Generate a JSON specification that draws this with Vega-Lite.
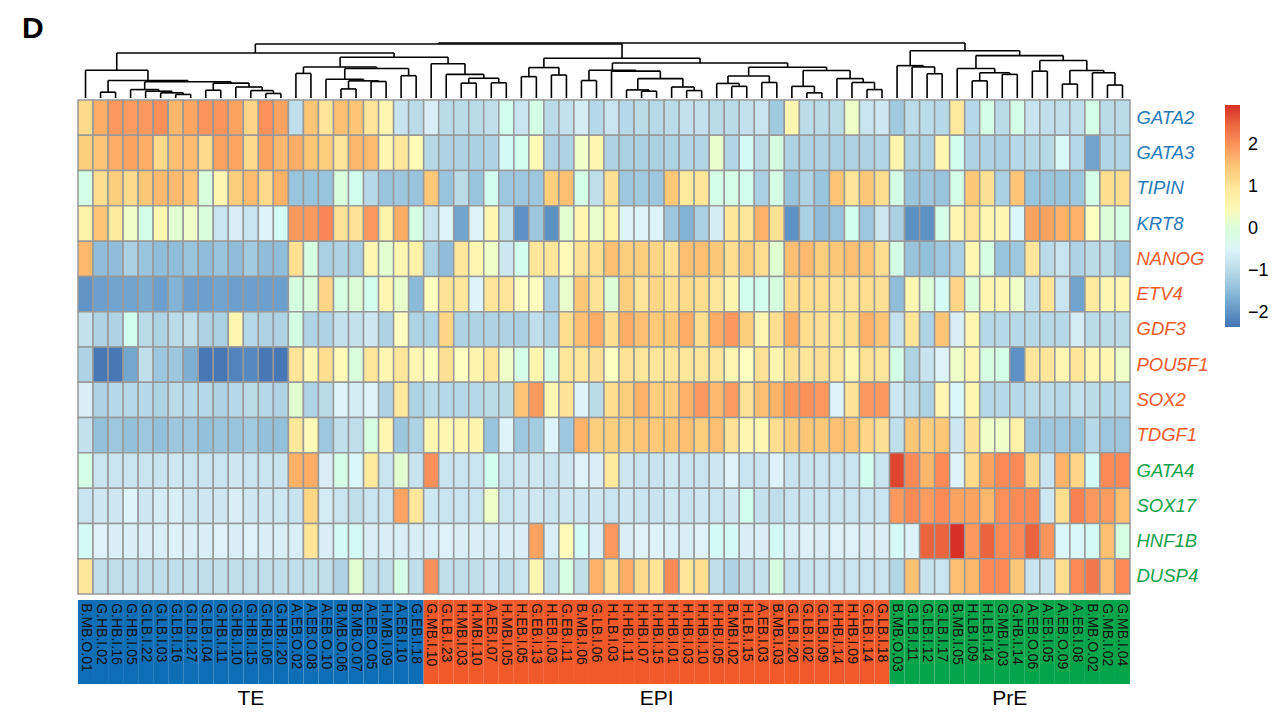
{
"$schema": "https://vega.github.io/schema/vega-lite/v6.json",
"padding": {"left": 22, "top": 14, "right": 0, "bottom": 0},
"background": "white",
"config": {"view": {"stroke": null}, "font": "Liberation Sans", "concat": {"spacing": 0}},
"title": {"text": "D", "anchor": "start", "frame": "group", "fontSize": 30, "fontWeight": "bold", "dx": -56, "offset": -2, "color": "black"},
"resolve": {"scale": {"fill": "independent", "color": "independent"}, "legend": {"fill": "independent"}},
"datasets": {
"tree": [
{"xl":2,"xr":3,"hl":0,"hr":0,"h":18},{"xl":7,"xr":8,"hl":0,"hr":0,"h":11},{"xl":6,"xr":7.5,"hl":0,"hr":11,"h":16},{"xl":5,"xr":6.75,"hl":0,"hr":16,"h":21},{"xl":4,"xr":5.875,"hl":0,"hr":21,"h":26},{"xl":9,"xr":10,"hl":0,"hr":0,"h":24},{"xl":13,"xr":14,"hl":0,"hr":0,"h":14},{"xl":12,"xr":13.5,"hl":0,"hr":14,"h":23},{"xl":11,"xr":12.75,"hl":0,"hr":23,"h":34},{"xl":9.5,"xr":11.875,"hl":24,"hr":34,"h":46},{"xl":4.9375,"xr":10.6875,"hl":26,"hr":46,"h":50},{"xl":2.5,"xr":7.8125,"hl":18,"hr":50,"h":54},{"xl":1,"xr":5.156,"hl":0,"hr":54,"h":86},
{"xl":15,"xr":16,"hl":0,"hr":0,"h":76},{"xl":18,"xr":19,"hl":0,"hr":0,"h":28},{"xl":20,"xr":21,"hl":0,"hr":0,"h":51},{"xl":18.5,"xr":20.5,"hl":28,"hr":51,"h":53},{"xl":17,"xr":19.5,"hl":0,"hr":53,"h":58},{"xl":22,"xr":23,"hl":0,"hr":0,"h":69},{"xl":18.25,"xr":22.5,"hl":58,"hr":69,"h":91},{"xl":15.5,"xr":20.375,"hl":76,"hr":91,"h":96},
{"xl":26,"xr":27,"hl":0,"hr":0,"h":46},{"xl":28,"xr":29,"hl":0,"hr":0,"h":47},{"xl":26.5,"xr":28.5,"hl":46,"hr":47,"h":61},{"xl":25,"xr":27.5,"hl":0,"hr":61,"h":73},{"xl":24,"xr":26.25,"hl":0,"hr":73,"h":106},{"xl":17.94,"xr":25.125,"hl":96,"hr":106,"h":126},{"xl":3.078,"xr":21.53,"hl":86,"hr":126,"h":139},
{"xl":30,"xr":31,"hl":0,"hr":0,"h":66},{"xl":32,"xr":33,"hl":0,"hr":0,"h":71},{"xl":30.5,"xr":32.5,"hl":66,"hr":71,"h":94},
{"xl":34,"xr":35,"hl":0,"hr":0,"h":54},{"xl":38,"xr":39,"hl":0,"hr":0,"h":21},{"xl":37,"xr":38.5,"hl":0,"hr":21,"h":25},{"xl":41,"xr":42,"hl":0,"hr":0,"h":23},{"xl":40,"xr":41.5,"hl":0,"hr":23,"h":34},{"xl":37.75,"xr":40.75,"hl":25,"hr":34,"h":60},{"xl":36,"xr":39.25,"hl":0,"hr":60,"h":83},{"xl":34.5,"xr":37.625,"hl":54,"hr":83,"h":86},
{"xl":44,"xr":45,"hl":0,"hr":0,"h":36},{"xl":43,"xr":44.5,"hl":0,"hr":36,"h":45},{"xl":46,"xr":47,"hl":0,"hr":0,"h":48},{"xl":43.75,"xr":46.5,"hl":45,"hr":48,"h":68},{"xl":49,"xr":50,"hl":0,"hr":0,"h":16},{"xl":48,"xr":49.5,"hl":0,"hr":16,"h":36},{"xl":53,"xr":54,"hl":0,"hr":0,"h":26},{"xl":52,"xr":53.5,"hl":0,"hr":26,"h":48},{"xl":51,"xr":52.75,"hl":0,"hr":48,"h":60},{"xl":48.75,"xr":51.875,"hl":36,"hr":60,"h":85},{"xl":45.125,"xr":50.31,"hl":68,"hr":85,"h":95},{"xl":36.06,"xr":47.72,"hl":86,"hr":95,"h":108},{"xl":31.5,"xr":41.89,"hl":94,"hr":108,"h":123},{"xl":12.3,"xr":36.7,"hl":139,"hr":123,"h":167},
{"xl":57,"xr":58,"hl":0,"hr":0,"h":75},{"xl":56,"xr":57.5,"hl":0,"hr":75,"h":96},{"xl":55,"xr":56.75,"hl":0,"hr":96,"h":100},{"xl":60,"xr":61,"hl":0,"hr":0,"h":53},{"xl":62,"xr":63,"hl":0,"hr":0,"h":73},{"xl":60.5,"xr":62.5,"hl":53,"hr":73,"h":78},{"xl":59,"xr":61.5,"hl":0,"hr":78,"h":91},{"xl":64,"xr":65,"hl":0,"hr":0,"h":83},{"xl":66,"xr":67,"hl":0,"hr":0,"h":43},{"xl":69,"xr":70,"hl":0,"hr":0,"h":40},{"xl":68,"xr":69.5,"hl":0,"hr":40,"h":78},{"xl":66.5,"xr":68.75,"hl":43,"hr":78,"h":85},{"xl":64.5,"xr":67.625,"hl":83,"hr":85,"h":116},{"xl":60.25,"xr":66.06,"hl":91,"hr":116,"h":131},{"xl":55.875,"xr":63.16,"hl":100,"hr":131,"h":146},{"xl":24.5,"xr":59.52,"hl":167,"hr":146,"h":170}
],
"samples": [
{"i":1,"s":"B.MB.O.01","g":"TE","GATA2":1.25,"GATA3":1.4,"TIPIN":-0.1,"KRT8":0.7,"NANOG":1.62,"ETV4":-1.96,"GDF3":-0.87,"POU5F1":-1.12,"SOX2":-0.64,"TDGF1":-0.87,"GATA4":-0.1,"SOX17":-0.82,"HNF1B":-0.35,"DUSP4":1.0},
{"i":2,"s":"G.HB.I.02","g":"TE","GATA2":1.75,"GATA3":1.5,"TIPIN":1.2,"KRT8":1.5,"NANOG":-1.47,"ETV4":-1.83,"GDF3":-1.12,"POU5F1":-2.3,"SOX2":-1.12,"TDGF1":-1.42,"GATA4":-0.82,"SOX17":-0.76,"HNF1B":-0.58,"DUSP4":-0.92},
{"i":3,"s":"G.HB.I.16","g":"TE","GATA2":1.95,"GATA3":1.75,"TIPIN":1.4,"KRT8":0.95,"NANOG":-1.47,"ETV4":-1.78,"GDF3":-1.12,"POU5F1":-2.3,"SOX2":-1.02,"TDGF1":-1.32,"GATA4":-0.82,"SOX17":-0.76,"HNF1B":-0.64,"DUSP4":-0.92},
{"i":4,"s":"G.HB.I.05","g":"TE","GATA2":1.92,"GATA3":1.85,"TIPIN":1.25,"KRT8":0.2,"NANOG":-1.17,"ETV4":-1.78,"GDF3":-0.22,"POU5F1":-1.74,"SOX2":-1.02,"TDGF1":-1.42,"GATA4":-0.82,"SOX17":-0.52,"HNF1B":-0.64,"DUSP4":-0.92},
{"i":5,"s":"G.LB.I.22","g":"TE","GATA2":1.95,"GATA3":1.75,"TIPIN":1.45,"KRT8":-0.1,"NANOG":-1.37,"ETV4":-1.69,"GDF3":-0.97,"POU5F1":-0.92,"SOX2":-1.02,"TDGF1":-1.32,"GATA4":-0.82,"SOX17":-0.76,"HNF1B":-0.64,"DUSP4":-0.92},
{"i":6,"s":"G.LB.I.03","g":"TE","GATA2":2.05,"GATA3":1.25,"TIPIN":1.62,"KRT8":0.55,"NANOG":-1.47,"ETV4":-1.83,"GDF3":-1.12,"POU5F1":-1.32,"SOX2":-1.12,"TDGF1":-1.42,"GATA4":-0.82,"SOX17":-0.7,"HNF1B":-0.64,"DUSP4":-0.92},
{"i":7,"s":"G.LB.I.16","g":"TE","GATA2":1.65,"GATA3":1.55,"TIPIN":1.6,"KRT8":0.1,"NANOG":-1.47,"ETV4":-1.6,"GDF3":-0.97,"POU5F1":-1.32,"SOX2":-0.97,"TDGF1":-1.32,"GATA4":-0.76,"SOX17":-0.64,"HNF1B":-0.58,"DUSP4":-0.92},
{"i":8,"s":"G.LB.I.27","g":"TE","GATA2":1.82,"GATA3":1.6,"TIPIN":1.5,"KRT8":0.2,"NANOG":-1.37,"ETV4":-1.83,"GDF3":-0.92,"POU5F1":-1.64,"SOX2":-1.02,"TDGF1":-1.32,"GATA4":-0.82,"SOX17":-0.76,"HNF1B":-0.64,"DUSP4":-0.92},
{"i":9,"s":"G.LB.I.04","g":"TE","GATA2":2.0,"GATA3":1.25,"TIPIN":0.0,"KRT8":0.0,"NANOG":-1.47,"ETV4":-1.83,"GDF3":-1.12,"POU5F1":-2.3,"SOX2":-1.02,"TDGF1":-1.42,"GATA4":-0.82,"SOX17":-0.76,"HNF1B":-0.64,"DUSP4":-0.92},
{"i":10,"s":"G.HB.I.11","g":"TE","GATA2":2.0,"GATA3":1.85,"TIPIN":0.55,"KRT8":-0.82,"NANOG":-1.37,"ETV4":-1.78,"GDF3":-1.17,"POU5F1":-2.3,"SOX2":-1.12,"TDGF1":-1.37,"GATA4":-0.82,"SOX17":-0.76,"HNF1B":-0.58,"DUSP4":-0.92},
{"i":11,"s":"G.HB.I.10","g":"TE","GATA2":1.85,"GATA3":1.82,"TIPIN":1.4,"KRT8":-0.64,"NANOG":-1.47,"ETV4":-1.83,"GDF3":0.55,"POU5F1":-2.15,"SOX2":-1.02,"TDGF1":-1.37,"GATA4":-0.76,"SOX17":-0.64,"HNF1B":-0.64,"DUSP4":-0.92},
{"i":12,"s":"G.HB.I.15","g":"TE","GATA2":1.3,"GATA3":1.25,"TIPIN":1.6,"KRT8":-0.82,"NANOG":-1.27,"ETV4":-1.83,"GDF3":-1.02,"POU5F1":-2.1,"SOX2":-0.97,"TDGF1":-1.27,"GATA4":-0.82,"SOX17":-0.76,"HNF1B":-0.58,"DUSP4":-0.92},
{"i":13,"s":"G.HB.I.06","g":"TE","GATA2":2.05,"GATA3":1.85,"TIPIN":1.25,"KRT8":-0.52,"NANOG":-1.47,"ETV4":-1.83,"GDF3":-1.12,"POU5F1":-2.3,"SOX2":-1.02,"TDGF1":-1.42,"GATA4":-0.82,"SOX17":-0.76,"HNF1B":-0.64,"DUSP4":-0.92},
{"i":14,"s":"G.HB.I.20","g":"TE","GATA2":1.85,"GATA3":1.62,"TIPIN":1.7,"KRT8":-0.28,"NANOG":-1.47,"ETV4":-1.83,"GDF3":-1.12,"POU5F1":-2.3,"SOX2":-1.12,"TDGF1":-1.42,"GATA4":-0.82,"SOX17":-0.76,"HNF1B":-0.64,"DUSP4":-0.92},
{"i":15,"s":"A.EB.O.02","g":"TE","GATA2":-0.92,"GATA3":1.75,"TIPIN":-1.37,"KRT8":1.95,"NANOG":1.15,"ETV4":-0.05,"GDF3":-0.1,"POU5F1":1.05,"SOX2":0.1,"TDGF1":0.95,"GATA4":1.7,"SOX17":-0.82,"HNF1B":-0.64,"DUSP4":-0.92},
{"i":16,"s":"A.EB.O.08","g":"TE","GATA2":1.5,"GATA3":1.5,"TIPIN":-1.37,"KRT8":1.95,"NANOG":-0.05,"ETV4":0.0,"GDF3":-1.12,"POU5F1":0.55,"SOX2":-1.12,"TDGF1":0.45,"GATA4":1.75,"SOX17":1.3,"HNF1B":1.05,"DUSP4":-0.92},
{"i":17,"s":"A.EB.O.10","g":"TE","GATA2":1.05,"GATA3":1.4,"TIPIN":-1.37,"KRT8":2.15,"NANOG":-1.17,"ETV4":1.3,"GDF3":-1.12,"POU5F1":1.2,"SOX2":-0.97,"TDGF1":-1.32,"GATA4":-0.64,"SOX17":-0.7,"HNF1B":-0.64,"DUSP4":-0.92},
{"i":18,"s":"B.MB.O.06","g":"TE","GATA2":1.55,"GATA3":1.05,"TIPIN":0.0,"KRT8":1.1,"NANOG":-1.12,"ETV4":-0.05,"GDF3":-0.87,"POU5F1":0.45,"SOX2":-0.52,"TDGF1":-0.92,"GATA4":-0.1,"SOX17":-0.82,"HNF1B":-0.35,"DUSP4":-1.12},
{"i":19,"s":"B.MB.O.07","g":"TE","GATA2":1.5,"GATA3":1.65,"TIPIN":-0.22,"KRT8":1.1,"NANOG":-1.17,"ETV4":0.05,"GDF3":-0.87,"POU5F1":0.0,"SOX2":-0.7,"TDGF1":-0.92,"GATA4":-0.46,"SOX17":-0.92,"HNF1B":-0.35,"DUSP4":0.1},
{"i":20,"s":"A.EB.O.05","g":"TE","GATA2":1.05,"GATA3":1.6,"TIPIN":-1.02,"KRT8":1.95,"NANOG":0.55,"ETV4":-0.22,"GDF3":-0.76,"POU5F1":1.0,"SOX2":-0.52,"TDGF1":-0.05,"GATA4":0.95,"SOX17":-0.82,"HNF1B":-0.64,"DUSP4":-0.92},
{"i":21,"s":"H.MB.I.09","g":"TE","GATA2":0.55,"GATA3":0.55,"TIPIN":-1.37,"KRT8":0.7,"NANOG":0.1,"ETV4":0.55,"GDF3":-1.12,"POU5F1":0.55,"SOX2":-1.12,"TDGF1":0.55,"GATA4":-0.82,"SOX17":-0.82,"HNF1B":-0.64,"DUSP4":-0.92},
{"i":22,"s":"A.EB.I.10","g":"TE","GATA2":-0.82,"GATA3":1.0,"TIPIN":-1.32,"KRT8":1.75,"NANOG":0.55,"ETV4":0.15,"GDF3":0.3,"POU5F1":1.0,"SOX2":0.95,"TDGF1":-1.32,"GATA4":0.1,"SOX17":1.85,"HNF1B":-0.64,"DUSP4":-0.1},
{"i":23,"s":"G.EB.I.18","g":"TE","GATA2":-0.97,"GATA3":0.45,"TIPIN":-1.37,"KRT8":-0.1,"NANOG":0.7,"ETV4":-1.5,"GDF3":-1.12,"POU5F1":0.55,"SOX2":-1.12,"TDGF1":-1.12,"GATA4":-0.82,"SOX17":1.0,"HNF1B":-0.64,"DUSP4":-0.92},
{"i":24,"s":"G.MB.I.10","g":"EPI","GATA2":-0.64,"GATA3":-1.02,"TIPIN":1.45,"KRT8":-0.82,"NANOG":-1.12,"ETV4":0.3,"GDF3":-1.12,"POU5F1":0.3,"SOX2":-0.97,"TDGF1":0.55,"GATA4":2.05,"SOX17":-0.76,"HNF1B":-0.64,"DUSP4":2.05},
{"i":25,"s":"G.LB.I.23","g":"EPI","GATA2":-0.97,"GATA3":-1.12,"TIPIN":-1.37,"KRT8":-0.52,"NANOG":-1.47,"ETV4":1.1,"GDF3":1.3,"POU5F1":1.15,"SOX2":-1.02,"TDGF1":0.55,"GATA4":-0.82,"SOX17":-0.82,"HNF1B":-0.58,"DUSP4":-0.92},
{"i":26,"s":"H.MB.I.03","g":"EPI","GATA2":-0.97,"GATA3":-1.12,"TIPIN":-0.97,"KRT8":-1.78,"NANOG":1.0,"ETV4":1.0,"GDF3":-1.12,"POU5F1":0.3,"SOX2":-1.02,"TDGF1":0.55,"GATA4":-0.82,"SOX17":-0.82,"HNF1B":-0.64,"DUSP4":-0.92},
{"i":27,"s":"H.MB.I.10","g":"EPI","GATA2":-0.97,"GATA3":-1.17,"TIPIN":-1.37,"KRT8":-0.52,"NANOG":0.55,"ETV4":-0.52,"GDF3":-1.12,"POU5F1":0.6,"SOX2":-1.02,"TDGF1":0.6,"GATA4":-0.82,"SOX17":-0.82,"HNF1B":-0.64,"DUSP4":-0.92},
{"i":28,"s":"A.EB.I.07","g":"EPI","GATA2":-0.92,"GATA3":-1.12,"TIPIN":-0.22,"KRT8":0.55,"NANOG":0.2,"ETV4":1.05,"GDF3":-1.12,"POU5F1":1.0,"SOX2":-0.97,"TDGF1":-1.37,"GATA4":-0.22,"SOX17":0.2,"HNF1B":-0.64,"DUSP4":-0.76},
{"i":29,"s":"H.MB.I.05","g":"EPI","GATA2":-0.22,"GATA3":-0.35,"TIPIN":-1.32,"KRT8":-0.87,"NANOG":-0.76,"ETV4":1.05,"GDF3":-1.12,"POU5F1":0.2,"SOX2":-0.97,"TDGF1":-0.52,"GATA4":-0.82,"SOX17":-0.82,"HNF1B":-0.64,"DUSP4":-0.92},
{"i":30,"s":"H.EB.I.05","g":"EPI","GATA2":-0.82,"GATA3":-0.22,"TIPIN":-1.32,"KRT8":-2.0,"NANOG":-0.22,"ETV4":0.3,"GDF3":-1.17,"POU5F1":-0.1,"SOX2":1.5,"TDGF1":-1.32,"GATA4":-0.76,"SOX17":-0.76,"HNF1B":-0.64,"DUSP4":-0.82},
{"i":31,"s":"G.EB.I.13","g":"EPI","GATA2":-0.1,"GATA3":0.45,"TIPIN":-1.32,"KRT8":-1.32,"NANOG":1.0,"ETV4":0.3,"GDF3":-0.92,"POU5F1":0.6,"SOX2":1.95,"TDGF1":-1.22,"GATA4":-0.76,"SOX17":-0.76,"HNF1B":1.85,"DUSP4":0.55},
{"i":32,"s":"H.EB.I.03","g":"EPI","GATA2":-0.97,"GATA3":-1.12,"TIPIN":1.4,"KRT8":-2.0,"NANOG":1.0,"ETV4":-1.17,"GDF3":-1.12,"POU5F1":-0.1,"SOX2":0.55,"TDGF1":-0.52,"GATA4":-0.82,"SOX17":-0.82,"HNF1B":-0.64,"DUSP4":-0.92},
{"i":33,"s":"G.EB.I.11","g":"EPI","GATA2":-0.87,"GATA3":-1.12,"TIPIN":1.55,"KRT8":0.1,"NANOG":0.45,"ETV4":0.15,"GDF3":1.2,"POU5F1":1.0,"SOX2":1.1,"TDGF1":-1.32,"GATA4":-0.76,"SOX17":-0.76,"HNF1B":0.45,"DUSP4":-0.05},
{"i":34,"s":"B.MB.I.06","g":"EPI","GATA2":-0.7,"GATA3":0.2,"TIPIN":-0.1,"KRT8":0.55,"NANOG":1.1,"ETV4":1.45,"GDF3":1.55,"POU5F1":1.0,"SOX2":-0.52,"TDGF1":1.7,"GATA4":-0.58,"SOX17":-0.76,"HNF1B":-0.35,"DUSP4":-0.92},
{"i":35,"s":"G.LB.I.06","g":"EPI","GATA2":-1.02,"GATA3":0.55,"TIPIN":-0.92,"KRT8":0.15,"NANOG":1.2,"ETV4":1.1,"GDF3":1.75,"POU5F1":1.15,"SOX2":-0.97,"TDGF1":1.4,"GATA4":-0.64,"SOX17":-0.76,"HNF1B":-0.64,"DUSP4":1.7},
{"i":36,"s":"H.LB.I.03","g":"EPI","GATA2":-0.82,"GATA3":-1.12,"TIPIN":1.15,"KRT8":0.7,"NANOG":1.55,"ETV4":0.05,"GDF3":1.2,"POU5F1":0.3,"SOX2":1.2,"TDGF1":1.4,"GATA4":0.95,"SOX17":-0.82,"HNF1B":1.95,"DUSP4":1.2},
{"i":37,"s":"H.HB.I.11","g":"EPI","GATA2":-1.02,"GATA3":-1.17,"TIPIN":-1.32,"KRT8":-0.52,"NANOG":1.4,"ETV4":1.4,"GDF3":1.75,"POU5F1":1.1,"SOX2":1.4,"TDGF1":1.4,"GATA4":-0.76,"SOX17":-0.76,"HNF1B":-0.64,"DUSP4":1.75},
{"i":38,"s":"H.HB.I.07","g":"EPI","GATA2":-0.97,"GATA3":-1.17,"TIPIN":-1.27,"KRT8":-0.52,"NANOG":1.4,"ETV4":1.05,"GDF3":1.55,"POU5F1":1.0,"SOX2":1.7,"TDGF1":1.5,"GATA4":-0.82,"SOX17":-0.82,"HNF1B":-0.58,"DUSP4":1.25},
{"i":39,"s":"H.HB.I.15","g":"EPI","GATA2":-1.02,"GATA3":-1.17,"TIPIN":-1.32,"KRT8":-0.52,"NANOG":1.3,"ETV4":1.3,"GDF3":1.45,"POU5F1":1.0,"SOX2":1.4,"TDGF1":1.45,"GATA4":-0.82,"SOX17":-0.82,"HNF1B":-0.58,"DUSP4":1.05},
{"i":40,"s":"H.HB.I.01","g":"EPI","GATA2":-0.97,"GATA3":-1.12,"TIPIN":1.45,"KRT8":-1.32,"NANOG":1.15,"ETV4":1.15,"GDF3":1.45,"POU5F1":1.0,"SOX2":1.4,"TDGF1":1.5,"GATA4":-0.76,"SOX17":-0.76,"HNF1B":-0.64,"DUSP4":2.1},
{"i":41,"s":"H.HB.I.03","g":"EPI","GATA2":-0.87,"GATA3":-1.07,"TIPIN":0.95,"KRT8":-1.6,"NANOG":1.55,"ETV4":1.25,"GDF3":1.75,"POU5F1":1.0,"SOX2":1.7,"TDGF1":1.55,"GATA4":-0.82,"SOX17":-0.82,"HNF1B":-0.64,"DUSP4":1.05},
{"i":42,"s":"H.HB.I.10","g":"EPI","GATA2":-0.87,"GATA3":-1.07,"TIPIN":1.05,"KRT8":-1.17,"NANOG":1.55,"ETV4":1.2,"GDF3":1.2,"POU5F1":1.0,"SOX2":1.95,"TDGF1":1.4,"GATA4":-0.82,"SOX17":-0.76,"HNF1B":-0.58,"DUSP4":1.2},
{"i":43,"s":"H.HB.I.05","g":"EPI","GATA2":-0.97,"GATA3":0.15,"TIPIN":-0.1,"KRT8":-0.7,"NANOG":1.45,"ETV4":1.0,"GDF3":1.75,"POU5F1":1.0,"SOX2":1.62,"TDGF1":1.55,"GATA4":-0.76,"SOX17":-0.82,"HNF1B":-0.35,"DUSP4":-0.92},
{"i":44,"s":"B.MB.I.02","g":"EPI","GATA2":-0.97,"GATA3":-1.07,"TIPIN":-0.1,"KRT8":1.0,"NANOG":1.2,"ETV4":0.6,"GDF3":1.95,"POU5F1":0.55,"SOX2":1.92,"TDGF1":1.1,"GATA4":-0.58,"SOX17":-0.76,"HNF1B":-0.35,"DUSP4":-1.12},
{"i":45,"s":"H.LB.I.15","g":"EPI","GATA2":-0.87,"GATA3":-0.35,"TIPIN":-0.22,"KRT8":1.0,"NANOG":1.4,"ETV4":-0.22,"GDF3":1.4,"POU5F1":0.3,"SOX2":1.1,"TDGF1":0.55,"GATA4":-0.82,"SOX17":-0.22,"HNF1B":-0.64,"DUSP4":-0.92},
{"i":46,"s":"A.EB.I.03","g":"EPI","GATA2":-0.82,"GATA3":-0.97,"TIPIN":-1.17,"KRT8":1.7,"NANOG":1.2,"ETV4":-0.22,"GDF3":0.55,"POU5F1":1.1,"SOX2":1.55,"TDGF1":0.55,"GATA4":-0.82,"SOX17":-0.87,"HNF1B":-0.64,"DUSP4":-0.87},
{"i":47,"s":"B.MB.I.03","g":"EPI","GATA2":-1.27,"GATA3":-0.05,"TIPIN":-0.1,"KRT8":1.1,"NANOG":0.1,"ETV4":-0.05,"GDF3":1.2,"POU5F1":0.6,"SOX2":1.7,"TDGF1":1.2,"GATA4":-0.58,"SOX17":-0.92,"HNF1B":-0.35,"DUSP4":-0.05},
{"i":48,"s":"G.LB.I.20","g":"EPI","GATA2":0.55,"GATA3":-1.12,"TIPIN":-1.37,"KRT8":-2.0,"NANOG":1.55,"ETV4":1.2,"GDF3":1.75,"POU5F1":1.15,"SOX2":1.95,"TDGF1":1.4,"GATA4":-0.82,"SOX17":-0.82,"HNF1B":-0.64,"DUSP4":-0.87},
{"i":49,"s":"G.LB.I.02","g":"EPI","GATA2":-0.97,"GATA3":-1.12,"TIPIN":-1.12,"KRT8":-1.17,"NANOG":1.62,"ETV4":1.2,"GDF3":1.2,"POU5F1":1.0,"SOX2":2.05,"TDGF1":1.5,"GATA4":-0.82,"SOX17":-0.82,"HNF1B":-0.58,"DUSP4":-0.82},
{"i":50,"s":"G.LB.I.09","g":"EPI","GATA2":-0.97,"GATA3":-1.12,"TIPIN":-1.37,"KRT8":-1.47,"NANOG":1.4,"ETV4":1.2,"GDF3":1.15,"POU5F1":1.15,"SOX2":1.95,"TDGF1":1.45,"GATA4":-0.82,"SOX17":-0.82,"HNF1B":-0.64,"DUSP4":-0.82},
{"i":51,"s":"H.HB.I.14","g":"EPI","GATA2":-0.97,"GATA3":-1.17,"TIPIN":1.5,"KRT8":-1.37,"NANOG":1.45,"ETV4":1.1,"GDF3":1.05,"POU5F1":1.0,"SOX2":-0.52,"TDGF1":1.55,"GATA4":-0.82,"SOX17":-0.82,"HNF1B":-0.58,"DUSP4":-0.82},
{"i":52,"s":"H.HB.I.09","g":"EPI","GATA2":0.2,"GATA3":-1.12,"TIPIN":1.05,"KRT8":-0.22,"NANOG":1.55,"ETV4":1.05,"GDF3":1.2,"POU5F1":0.55,"SOX2":1.1,"TDGF1":1.5,"GATA4":-0.82,"SOX17":-0.82,"HNF1B":-0.58,"DUSP4":-0.82},
{"i":53,"s":"G.LB.I.14","g":"EPI","GATA2":-0.82,"GATA3":-1.12,"TIPIN":1.45,"KRT8":-1.32,"NANOG":1.5,"ETV4":1.2,"GDF3":1.7,"POU5F1":1.1,"SOX2":1.95,"TDGF1":1.3,"GATA4":-0.22,"SOX17":-0.82,"HNF1B":-0.64,"DUSP4":-0.82},
{"i":54,"s":"G.LB.I.18","g":"EPI","GATA2":-0.76,"GATA3":-1.07,"TIPIN":1.2,"KRT8":-0.76,"NANOG":1.2,"ETV4":1.15,"GDF3":1.5,"POU5F1":1.0,"SOX2":1.95,"TDGF1":1.15,"GATA4":-0.82,"SOX17":-0.82,"HNF1B":-0.64,"DUSP4":-0.82},
{"i":55,"s":"B.MB.O.03","g":"PrE","GATA2":-1.27,"GATA3":0.6,"TIPIN":-0.1,"KRT8":-1.17,"NANOG":-0.1,"ETV4":-1.47,"GDF3":-0.87,"POU5F1":-0.1,"SOX2":-0.76,"TDGF1":-0.92,"GATA4":2.8,"SOX17":1.95,"HNF1B":-0.35,"DUSP4":-1.07},
{"i":56,"s":"G.LB.I.11","g":"PrE","GATA2":-0.97,"GATA3":-1.12,"TIPIN":-1.37,"KRT8":-2.0,"NANOG":-1.37,"ETV4":0.55,"GDF3":1.05,"POU5F1":-1.12,"SOX2":-0.97,"TDGF1":1.5,"GATA4":2.1,"SOX17":2.1,"HNF1B":-0.58,"DUSP4":1.55},
{"i":57,"s":"G.LB.I.12","g":"PrE","GATA2":-0.97,"GATA3":-1.12,"TIPIN":-1.32,"KRT8":-2.0,"NANOG":-1.42,"ETV4":0.05,"GDF3":-1.12,"POU5F1":-0.82,"SOX2":-1.12,"TDGF1":1.4,"GATA4":1.65,"SOX17":1.92,"HNF1B":2.5,"DUSP4":-0.82},
{"i":58,"s":"G.LB.I.17","g":"PrE","GATA2":-1.02,"GATA3":0.55,"TIPIN":-1.37,"KRT8":-0.1,"NANOG":-1.32,"ETV4":-0.35,"GDF3":1.5,"POU5F1":-0.52,"SOX2":0.55,"TDGF1":1.45,"GATA4":2.1,"SOX17":2.1,"HNF1B":2.5,"DUSP4":-0.82},
{"i":59,"s":"B.MB.I.05","g":"PrE","GATA2":0.95,"GATA3":-0.22,"TIPIN":-0.1,"KRT8":0.55,"NANOG":-1.17,"ETV4":1.3,"GDF3":-0.64,"POU5F1":0.2,"SOX2":-0.46,"TDGF1":-0.76,"GATA4":-0.52,"SOX17":1.85,"HNF1B":2.95,"DUSP4":1.55},
{"i":60,"s":"H.LB.I.09","g":"PrE","GATA2":-1.02,"GATA3":-1.12,"TIPIN":1.45,"KRT8":1.05,"NANOG":0.55,"ETV4":0.0,"GDF3":0.55,"POU5F1":0.55,"SOX2":0.55,"TDGF1":1.15,"GATA4":1.25,"SOX17":1.85,"HNF1B":1.95,"DUSP4":1.65},
{"i":61,"s":"H.LB.I.14","g":"PrE","GATA2":-0.1,"GATA3":-1.12,"TIPIN":1.15,"KRT8":0.55,"NANOG":-0.05,"ETV4":0.55,"GDF3":-1.02,"POU5F1":-0.05,"SOX2":-1.02,"TDGF1":0.2,"GATA4":1.85,"SOX17":1.65,"HNF1B":2.5,"DUSP4":2.1},
{"i":62,"s":"G.MB.I.03","g":"PrE","GATA2":-0.97,"GATA3":-1.17,"TIPIN":-1.17,"KRT8":0.55,"NANOG":-1.37,"ETV4":0.55,"GDF3":-1.02,"POU5F1":-0.1,"SOX2":-1.02,"TDGF1":0.2,"GATA4":2.1,"SOX17":2.05,"HNF1B":2.1,"DUSP4":2.1},
{"i":63,"s":"G.HB.I.14","g":"PrE","GATA2":-0.1,"GATA3":-1.02,"TIPIN":1.5,"KRT8":-0.46,"NANOG":-1.32,"ETV4":0.2,"GDF3":-1.02,"POU5F1":-2.0,"SOX2":-1.02,"TDGF1":0.7,"GATA4":2.1,"SOX17":2.1,"HNF1B":2.1,"DUSP4":1.45},
{"i":64,"s":"A.EB.O.06","g":"PrE","GATA2":-0.82,"GATA3":-1.02,"TIPIN":-1.37,"KRT8":1.85,"NANOG":1.0,"ETV4":-0.92,"GDF3":-1.02,"POU5F1":1.0,"SOX2":-0.97,"TDGF1":-1.32,"GATA4":1.3,"SOX17":2.1,"HNF1B":2.5,"DUSP4":-0.82},
{"i":65,"s":"A.EB.I.05","g":"PrE","GATA2":-0.92,"GATA3":-1.02,"TIPIN":-1.37,"KRT8":1.85,"NANOG":-0.97,"ETV4":1.05,"GDF3":-1.02,"POU5F1":1.0,"SOX2":-0.97,"TDGF1":-1.32,"GATA4":-0.82,"SOX17":-0.76,"HNF1B":2.0,"DUSP4":-0.82},
{"i":66,"s":"A.EB.O.09","g":"PrE","GATA2":-0.92,"GATA3":-0.4,"TIPIN":-1.37,"KRT8":1.7,"NANOG":-0.82,"ETV4":-0.82,"GDF3":-1.02,"POU5F1":0.55,"SOX2":-1.02,"TDGF1":-1.32,"GATA4":1.7,"SOX17":1.2,"HNF1B":-0.46,"DUSP4":1.2},
{"i":67,"s":"A.EB.I.08","g":"PrE","GATA2":-0.92,"GATA3":-1.02,"TIPIN":-1.32,"KRT8":1.7,"NANOG":-1.12,"ETV4":-1.78,"GDF3":-0.7,"POU5F1":1.05,"SOX2":-0.87,"TDGF1":-1.37,"GATA4":1.3,"SOX17":2.2,"HNF1B":-0.46,"DUSP4":2.1},
{"i":68,"s":"B.MB.O.02","g":"PrE","GATA2":-0.1,"GATA3":-1.78,"TIPIN":-0.1,"KRT8":0.3,"NANOG":-0.97,"ETV4":0.95,"GDF3":-0.97,"POU5F1":0.55,"SOX2":-0.97,"TDGF1":-1.02,"GATA4":-0.35,"SOX17":1.95,"HNF1B":-0.35,"DUSP4":2.3},
{"i":69,"s":"G.MB.I.02","g":"PrE","GATA2":-0.97,"GATA3":-1.07,"TIPIN":1.2,"KRT8":0.05,"NANOG":-0.97,"ETV4":0.55,"GDF3":-0.97,"POU5F1":0.55,"SOX2":-1.02,"TDGF1":-1.32,"GATA4":2.1,"SOX17":1.92,"HNF1B":1.55,"DUSP4":1.55},
{"i":70,"s":"G.MB.I.04","g":"PrE","GATA2":-0.97,"GATA3":-1.07,"TIPIN":1.2,"KRT8":-0.05,"NANOG":-1.32,"ETV4":0.55,"GDF3":-0.97,"POU5F1":0.2,"SOX2":-1.02,"TDGF1":-1.32,"GATA4":2.1,"SOX17":1.55,"HNF1B":-0.05,"DUSP4":2.1}
]
},
"vconcat": [
{
"spacing": 0,
"vconcat": [
{
"data": {"name": "tree"},
"width": 1052, "height": 55,
"layer": [
{"mark": {"type": "rule", "color": "black", "strokeWidth": 1.6},
 "encoding": {"x": {"field": "xl", "type": "quantitative", "scale": {"domain": [0.5, 70.5]}, "axis": null}, "x2": {"field": "xr"}, "y": {"field": "h", "type": "quantitative", "scale": {"domain": [0, 170]}, "axis": null}}},
{"mark": {"type": "rule", "color": "black", "strokeWidth": 1.6},
 "encoding": {"x": {"field": "xl", "type": "quantitative", "scale": {"domain": [0.5, 70.5]}, "axis": null}, "y": {"field": "hl", "type": "quantitative", "scale": {"domain": [0, 170]}, "axis": null}, "y2": {"field": "h"}}},
{"mark": {"type": "rule", "color": "black", "strokeWidth": 1.6},
 "encoding": {"x": {"field": "xr", "type": "quantitative", "scale": {"domain": [0.5, 70.5]}, "axis": null}, "y": {"field": "hr", "type": "quantitative", "scale": {"domain": [0, 170]}, "axis": null}, "y2": {"field": "h"}}}
]
},
{
"data": {"name": "samples"},
"transform": [{"fold": ["GATA2","GATA3","TIPIN","KRT8","NANOG","ETV4","GDF3","POU5F1","SOX2","TDGF1","GATA4","SOX17","HNF1B","DUSP4"], "as": ["gene", "v"]}],
"width": 1052, "height": 494,
"mark": {"type": "rect", "stroke": "#999999", "strokeWidth": 1.5},
"encoding": {
"x": {"field": "s", "type": "nominal", "sort": {"field": "i", "op": "min"}, "scale": {"paddingInner": 0, "paddingOuter": 0}, "axis": null},
"y": {"field": "gene", "type": "nominal", "sort": ["GATA2","GATA3","TIPIN","KRT8","NANOG","ETV4","GDF3","POU5F1","SOX2","TDGF1","GATA4","SOX17","HNF1B","DUSP4"], "scale": {"paddingInner": 0, "paddingOuter": 0},
 "axis": {"orient": "right", "title": null, "ticks": false, "domain": false, "labelFontSize": 18.5, "labelFontStyle": "italic", "labelPadding": 6, "labelFont": "Liberation Sans",
  "labelColor": {"condition": [{"test": "indexof(['GATA2','GATA3','TIPIN','KRT8'], datum.value) >= 0", "value": "#2a7ab9"}, {"test": "indexof(['GATA4','SOX17','HNF1B','DUSP4'], datum.value) >= 0", "value": "#12a14b"}], "value": "#f15a2b"}}},
"fill": {"field": "v", "type": "quantitative",
 "scale": {"domain": [-2.33, -1.45, -0.57, 0.31, 1.19, 2.07, 2.95], "range": ["#4575b4", "#91bfdb", "#e0f3f8", "#ffffbf", "#fee090", "#fc8d59", "#d73027"]},
 "legend": {"title": null, "orient": "none", "legendX": 1147, "legendY": 62, "direction": "vertical", "gradientLength": 222, "gradientThickness": 15, "gradientStrokeWidth": 0, "values": [-2, -1, 0, 1, 2], "format": "d", "labelFontSize": 18, "labelColor": "black", "labelOffset": 8, "labelFont": "Liberation Sans"}}
}
}
]
},
{
"spacing": 0,
"vconcat": [
{
"data": {"name": "samples"},
"width": 1052, "height": 84,
"layer": [
{"mark": {"type": "rect"},
 "encoding": {"x": {"field": "s", "type": "nominal", "sort": {"field": "i", "op": "min"}, "scale": {"paddingInner": 0, "paddingOuter": 0}, "axis": null},
  "color": {"field": "g", "type": "nominal", "scale": {"domain": ["TE", "EPI", "PrE"], "range": ["#0e6eb5", "#f2592a", "#04a44b"]}, "legend": null}}},
{"mark": {"type": "text", "angle": 90, "align": "left", "baseline": "middle", "fontSize": 14, "color": "#111111", "font": "Liberation Sans"},
 "encoding": {"x": {"field": "s", "type": "nominal", "sort": {"field": "i", "op": "min"}, "scale": {"paddingInner": 0, "paddingOuter": 0}, "axis": null},
  "y": {"datum": 1, "type": "quantitative", "scale": {"domain": [0, 1.04]}, "axis": null},
  "text": {"field": "s"}}}
]
},
{
"data": {"name": "samples"},
"transform": [{"aggregate": [{"op": "mean", "field": "i", "as": "mid"}], "groupby": ["g"]}],
"width": 1052, "height": 30,
"mark": {"type": "text", "fontSize": 21, "color": "black", "font": "Liberation Sans", "baseline": "middle"},
"encoding": {"x": {"field": "mid", "type": "quantitative", "scale": {"domain": [0.5, 70.5]}, "axis": null}, "text": {"field": "g"}}
}
]
}
],
"spacing": 5
}
